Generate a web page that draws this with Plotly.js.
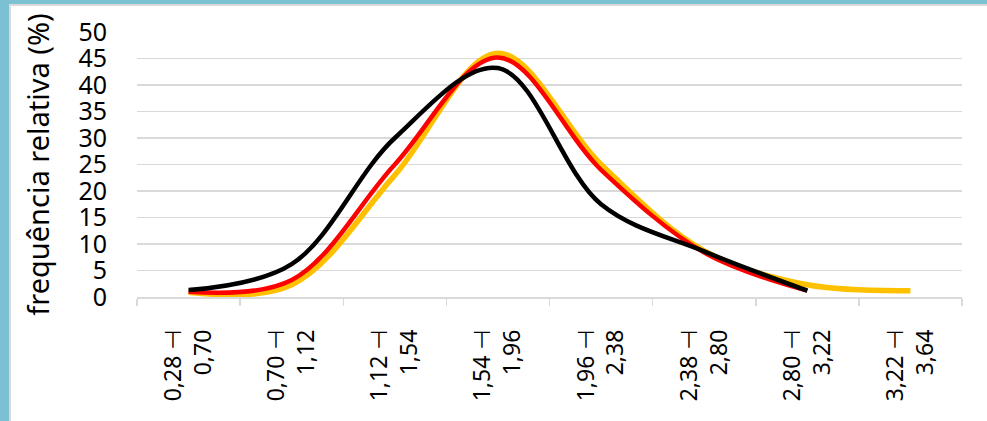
<!DOCTYPE html>
<html>
<head>
<meta charset="utf-8">
<script src="https://cdn.plot.ly/plotly-3.0.1.min.js"></script>
<style>
  html, body { margin: 0; padding: 0; background: #ffffff; }
  #frame { position: absolute; left: 0; top: 0; width: 987px; height: 421px; background: #7BC0D3; overflow: hidden; }
  #inner { position: absolute; left: 9px; top: 4px; width: 978px; height: 417px; background: #ffffff;
           border-left: 2px solid #d9d9d9; border-top: 2px solid #d9d9d9; box-sizing: border-box; }
  #chart { position: absolute; left: 0; top: 0; width: 976px; height: 415px; }
</style>
</head>
<body>
<div id="frame"><div id="inner"><div id="chart"></div></div></div>
<script>
// Class limits (tick labels)
const lowerLimits = ["0,28", "0,70", "1,12", "1,54", "1,96", "2,38", "2,80", "3,22"];
const upperLimits = ["0,70", "1,12", "1,54", "1,96", "2,38", "2,80", "3,22", "3,64"];
const categories = lowerLimits.map((lo, i) => lo + " \u22A3<br>" + upperLimits[i]);

// Relative frequency (%) per series
const yellowValues = [0.9, 2.3, 23, 46, 25, 8.7, 2.3, 1.2];
const redValues    = [1.0, 3.2, 25, 45.2, 24, 8.4, 1.2, null];
const blackValues  = [1.3, 6.2, 30, 43.2, 17.5, 8.6, 1.2, null];

const seriesColors = ["#FFC000", "#FF0000", "#000000"];
const seriesData = [yellowValues, redValues, blackValues];
const seriesWidths = [5.5, 4.5, 4.5];

const traces = seriesData.map((vals, i) => ({
  type: "scatter",
  mode: "lines",
  x: categories,
  y: vals,
  line: { color: seriesColors[i], width: seriesWidths[i], shape: "spline", smoothing: 1 },
  connectgaps: false,
  hoverinfo: "skip",
  showlegend: false
}));

const layout = {
  width: 976,
  height: 415,
  margin: { l: 126, r: 25, t: 26, b: 124 },
  paper_bgcolor: "#ffffff",
  plot_bgcolor: "#ffffff",
  font: { family: "Noto Sans, Open Sans, DejaVu Sans, sans-serif", color: "#000000" },
  xaxis: {
    type: "category",
    range: [-0.5, 7.5],
    tickangle: -90,
    tickson: "boundaries",
    ticks: "outside",
    ticklen: 7,
    tickcolor: "#d9d9d9",
    tickwidth: 1.5,
    showline: true,
    linecolor: "#d9d9d9",
    linewidth: 1.5,
    showgrid: false,
    zeroline: false,
    ticklabelstandoff: 22,
    tickfont: { size: 23, color: "#000000" },
    fixedrange: true
  },
  yaxis: {
    range: [0, 50],
    dtick: 5,
    tick0: 0,
    showgrid: true,
    gridcolor: "#d9d9d9",
    gridwidth: 1.5,
    zeroline: false,
    showline: false,
    ticks: "",
    ticklabelstandoff: 29,
    tickfont: { size: 25, color: "#000000" },
    title: { text: "frequência relativa (%)", font: { size: 29, color: "#000000" }, standoff: 20 },
    fixedrange: true
  }
};

Plotly.newPlot("chart", traces, layout, { displayModeBar: false, staticPlot: true });
</script>
</body>
</html>
